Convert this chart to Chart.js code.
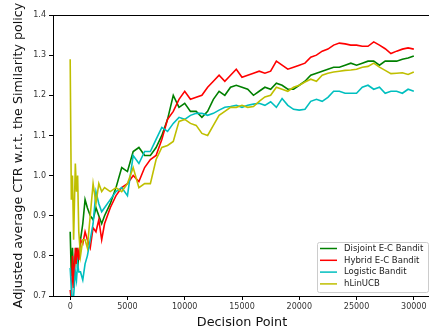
<!DOCTYPE html>
<html>
<head>
<meta charset="utf-8">
<script src="https://cdn.jsdelivr.net/npm/chart.js@4"></script>
<style>
  html, body { margin: 0; padding: 0; background: #fff; overflow: hidden; }
  #wrap { width: 432px; height: 332px; }
</style>
</head>
<body>
<div id="wrap"><canvas id="ctrChart" width="432" height="332"></canvas></div>
<script>
// decision points (x) shared by all series
const decisionPoints = [0, 100, 200, 300, 450, 550, 650, 750, 900, 1100, 1300, 1500, 1750, 2000, 2250, 2500, 2750, 3000,
  3500, 4000, 4500, 5000, 5500, 6000, 6500, 7000, 7500, 8000, 8500, 9000, 9500, 10000, 10500, 11000, 11500, 12000,
  12500, 13000, 13500, 14000, 14500, 15000, 15500, 16000, 16500, 17000, 17500, 18000, 18500, 19000, 19500, 20000,
  20500, 21000, 21500, 22000, 22500, 23000, 23500, 24000, 24500, 25000, 25500, 26000, 26500, 27000, 27500, 28000,
  28500, 29000, 29500, 30000];

const disjointEC = [0.86, 0.75, 0.82, 0.75, 0.80, 0.82, 0.77, 0.80, 0.84, 0.88, 0.94, 0.92, 0.90, 0.89, 0.92, 0.90, 0.88, 0.90,
  0.93, 0.97, 1.02, 1.01, 1.06, 1.07, 1.05, 1.05, 1.07, 1.10, 1.14, 1.20, 1.17, 1.18, 1.16, 1.16, 1.145, 1.16,
  1.19, 1.21, 1.20, 1.22, 1.225, 1.22, 1.215, 1.20, 1.21, 1.22, 1.215, 1.23, 1.225, 1.215, 1.215, 1.225,
  1.235, 1.25, 1.255, 1.26, 1.265, 1.27, 1.27, 1.275, 1.28, 1.275, 1.28, 1.285, 1.285, 1.275, 1.285, 1.285,
  1.285, 1.29, 1.293, 1.298];

const hybridEC = [0.715, 0.69, 0.80, 0.72, 0.82, 0.78, 0.82, 0.79, 0.84, 0.83, 0.86, 0.84, 0.82, 0.87, 0.86, 0.89, 0.84, 0.88,
  0.92, 0.95, 0.97, 0.98, 1.00, 0.985, 1.02, 1.04, 1.05, 1.09, 1.14, 1.16, 1.19, 1.21, 1.19, 1.195, 1.20, 1.22,
  1.235, 1.25, 1.235, 1.25, 1.265, 1.245, 1.25, 1.255, 1.26, 1.255, 1.26, 1.285, 1.275, 1.265, 1.27, 1.275,
  1.28, 1.295, 1.30, 1.31, 1.315, 1.325, 1.33, 1.328, 1.325, 1.325, 1.322, 1.322, 1.333, 1.325, 1.316, 1.304,
  1.31, 1.315, 1.318, 1.315];

const logistic = [0.77, 0.72, 0.68, 0.70, 0.76, 0.74, 0.78, 0.76, 0.76, 0.74, 0.78, 0.80, 0.84, 0.88, 0.96, 0.93, 0.91, 0.92,
  0.94, 0.96, 0.97, 0.95, 1.05, 1.03, 1.06, 1.06, 1.09, 1.12, 1.11, 1.13, 1.145, 1.14, 1.15, 1.155, 1.155, 1.15,
  1.155, 1.163, 1.17, 1.172, 1.175, 1.17, 1.175, 1.178, 1.18, 1.175, 1.184, 1.17, 1.192, 1.175, 1.165, 1.163,
  1.165, 1.185, 1.19, 1.185, 1.195, 1.21, 1.21, 1.205, 1.205, 1.205, 1.22, 1.225, 1.215, 1.22, 1.205, 1.21,
  1.21, 1.205, 1.215, 1.21];

const hLinUCB = [1.29, 0.94, 1.00, 0.84, 1.03, 0.96, 1.00, 0.86, 0.80, 0.84, 0.84, 0.82, 0.90, 0.98, 0.93, 0.98, 0.96, 0.97,
  0.96, 0.97, 0.96, 0.98, 1.02, 0.97, 0.98, 0.98, 1.04, 1.07, 1.075, 1.085, 1.135, 1.14, 1.13, 1.125, 1.105, 1.10,
  1.125, 1.15, 1.16, 1.17, 1.17, 1.175, 1.17, 1.172, 1.185, 1.196, 1.20, 1.22, 1.215, 1.21, 1.22, 1.225,
  1.233, 1.24, 1.235, 1.25, 1.255, 1.258, 1.26, 1.262, 1.263, 1.265, 1.27, 1.272, 1.28, 1.27, 1.262, 1.254,
  1.255, 1.256, 1.252, 1.258];

const seriesNames = ['Disjoint E-C Bandit', 'Hybrid E-C Bandit', 'Logistic Bandit', 'hLinUCB'];
const seriesColors = ['#008000', '#ff0000', '#00bfbf', '#bfbf00'];
const xTicks = [0, 5000, 10000, 15000, 20000, 25000, 30000];
const yTicks = [0.7, 0.8, 0.9, 1.0, 1.1, 1.2, 1.3, 1.4];

const allSeries = [disjointEC, hybridEC, logistic, hLinUCB];
const FONT = 'DejaVu Sans';

// top/right spines + matplotlib-style legend box
const framePlugin = {
    id: 'frame',
    afterDatasetsDraw(chart) {
        const { ctx, chartArea: a } = chart;
        ctx.save();
        ctx.strokeStyle = '#000';
        ctx.lineWidth = 1;
        ctx.beginPath();
        ctx.moveTo(a.left, a.top + 0.5);
        ctx.lineTo(a.right, a.top + 0.5);
        ctx.moveTo(a.right - 0.5, a.top);
        ctx.lineTo(a.right - 0.5, a.bottom);
        ctx.stroke();

        // legend
        const boxW = 111, boxH = 50;
        const bx = a.right - 3 - boxW, by = a.bottom - 4 - boxH;
        ctx.fillStyle = 'rgba(255,255,255,0.8)';
        ctx.strokeStyle = '#cccccc';
        ctx.lineWidth = 1;
        ctx.beginPath();
        ctx.roundRect(bx + 0.5, by + 0.5, boxW, boxH, 2);
        ctx.fill();
        ctx.stroke();
        ctx.font = '8.5px "' + FONT + '"';
        ctx.textBaseline = 'middle';
        seriesNames.forEach((name, i) => {
            const yy = by + 6.5 + i * 11.8;
            ctx.strokeStyle = seriesColors[i];
            ctx.lineWidth = 1.5;
            ctx.beginPath();
            ctx.moveTo(bx + 3, yy);
            ctx.lineTo(bx + 20, yy);
            ctx.stroke();
            ctx.fillStyle = '#222';
            ctx.fillText(name, bx + 27, yy);
        });
        ctx.restore();
    }
};

const ctx = document.getElementById('ctrChart').getContext('2d');
new Chart(ctx, {
    type: 'line',
    data: {
        datasets: allSeries.map((vals, i) => ({
            label: seriesNames[i],
            data: vals.map((v, j) => ({ x: decisionPoints[j], y: v })),
            borderColor: seriesColors[i],
            backgroundColor: seriesColors[i],
            borderWidth: 1.6,
            pointRadius: 0,
            tension: 0,
            order: allSeries.length - i
        }))
    },
    options: {
        responsive: false,
        animation: false,
        layout: { padding: { top: 15, right: 1, left: 0, bottom: 0 } },
        plugins: {
            legend: { display: false },
            tooltip: { enabled: false }
        },
        scales: {
            x: {
                type: 'linear',
                min: -1500,
                max: 31500,
                afterBuildTicks: s => { s.ticks = xTicks.map(v => ({ value: v })); },
                afterFit: s => { s.height = 36; },
                grid: { drawOnChartArea: false, tickLength: 4, color: '#000' },
                border: { color: '#000', width: 1 },
                ticks: {
                    color: '#333',
                    font: { family: FONT, size: 8 },
                    padding: 2,
                    maxRotation: 0,
                    callback: v => String(v)
                },
                title: {
                    display: true,
                    text: 'Decision Point',
                    color: '#111',
                    font: { family: FONT, size: 12.8 },
                    padding: { top: 1, bottom: 2 }
                }
            },
            y: {
                min: 0.7,
                max: 1.4,
                afterBuildTicks: s => { s.ticks = yTicks.map(v => ({ value: v })); },
                afterFit: s => { s.width = 53; },
                grid: { drawOnChartArea: false, tickLength: 4, color: '#000' },
                border: { color: '#000', width: 1 },
                ticks: {
                    color: '#333',
                    font: { family: FONT, size: 8 },
                    padding: 3,
                    callback: v => v.toFixed(1)
                },
                title: {
                    display: true,
                    text: 'Adjusted average CTR w.r.t. the Similarity policy',
                    color: '#111',
                    font: { family: FONT, size: 12.7 },
                    padding: { top: 11, bottom: 0 }
                }
            }
        }
    },
    plugins: [framePlugin]
});
</script>
</body>
</html>
